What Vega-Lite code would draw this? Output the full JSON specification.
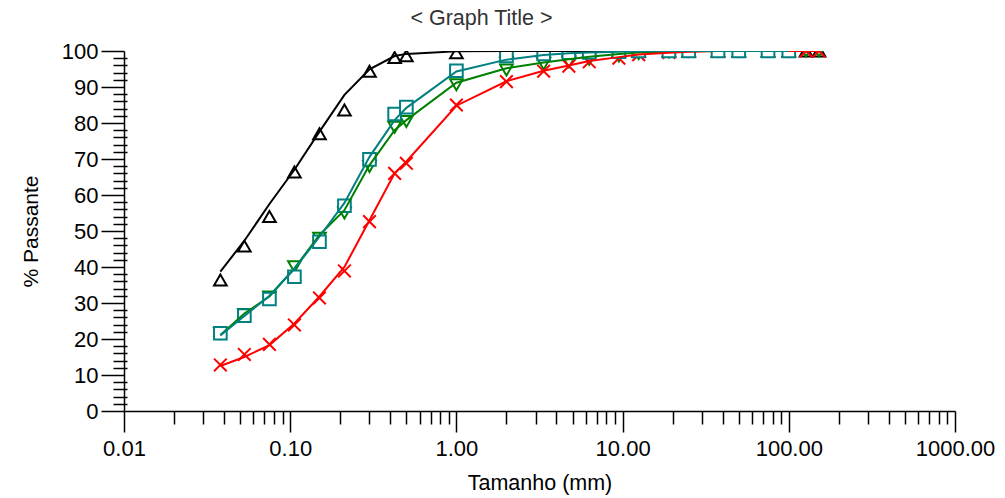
{
  "$schema": "https://vega.github.io/schema/vega-lite/v6.json",
  "autosize": "none",
  "width": 831,
  "height": 360,
  "padding": {"left": 124, "top": 51, "right": 50, "bottom": 87},
  "background": "white",
  "config": {"view": {"stroke": null}, "axis": {"grid": false}},
  "title": {"text": "< Graph Title >", "font": "Liberation Sans", "fontSize": 21.5, "fontWeight": "normal", "color": "#333333", "anchor": "middle", "baseline": "alphabetic", "offset": 17, "dy": 23, "dx": -58},
  "data": {"values": [
    {"x":0.038,"s":"A","m":36.4,"f":38.7},{"x":0.053,"s":"A","m":45.8,"f":47.3},{"x":0.075,"s":"A","m":54.0,"f":57.5},{"x":0.106,"s":"A","m":66.4,"f":67.0},{"x":0.15,"s":"A","m":77.0,"f":77.6},{"x":0.212,"s":"A","m":83.6,"f":87.8},{"x":0.3,"s":"A","m":94.4,"f":94.9},{"x":0.425,"s":"A","m":98.2,"f":98.6},{"x":0.5,"s":"A","m":98.7,"f":99.2},{"x":1,"s":"A","m":99.5,"f":99.9},{"x":2,"s":"A","m":100,"f":100},{"x":3.35,"s":"A","m":100,"f":100},{"x":4.75,"s":"A","m":100,"f":100},{"x":6.3,"s":"A","m":100,"f":100},{"x":9.5,"s":"A","m":100,"f":100},{"x":12.5,"s":"A","m":100,"f":100},{"x":19,"s":"A","m":100,"f":100},{"x":25,"s":"A","m":100,"f":100},{"x":37.5,"s":"A","m":100,"f":100},{"x":50,"s":"A","m":100,"f":100},{"x":75,"s":"A","m":100,"f":100},{"x":100,"s":"A","m":100,"f":100},{"x":127,"s":"A","m":100,"f":100},{"x":152,"s":"A","m":100,"f":100},
    {"x":0.038,"s":"B","m":21.5,"f":21.1},{"x":0.053,"s":"B","m":26.8,"f":27.1},{"x":0.075,"s":"B","m":31.7,"f":31.8},{"x":0.106,"s":"B","m":40.1,"f":39.6},{"x":0.15,"s":"B","m":48.0,"f":48.9},{"x":0.212,"s":"B","m":55.0,"f":55.8},{"x":0.3,"s":"B","m":67.9,"f":68.3},{"x":0.425,"s":"B","m":78.8,"f":78.0},{"x":0.5,"s":"B","m":80.4,"f":80.8},{"x":1,"s":"B","m":90.6,"f":91.2},{"x":2,"s":"B","m":94.7,"f":95.2},{"x":3.35,"s":"B","m":96.4,"f":96.8},{"x":4.75,"s":"B","m":97.0,"f":97.7},{"x":6.3,"s":"B","m":97.7,"f":98.4},{"x":9.5,"s":"B","m":98.6,"f":99.2},{"x":12.5,"s":"B","m":99.3,"f":99.6},{"x":19,"s":"B","m":99.7,"f":99.8},{"x":25,"s":"B","m":100,"f":99.9},{"x":37.5,"s":"B","m":100,"f":100},{"x":50,"s":"B","m":100,"f":100},{"x":75,"s":"B","m":100,"f":100},{"x":100,"s":"B","m":100,"f":100},{"x":127,"s":"B","m":100,"f":100},{"x":152,"s":"B","m":100,"f":100},
    {"x":0.038,"s":"D","m":12.8,"f":12.5},{"x":0.053,"s":"D","m":15.7,"f":15.0},{"x":0.075,"s":"D","m":18.5,"f":18.3},{"x":0.106,"s":"D","m":23.9,"f":24.3},{"x":0.15,"s":"D","m":31.4,"f":31.8},{"x":0.212,"s":"D","m":38.9,"f":40.0},{"x":0.3,"s":"D","m":52.6,"f":53.0},{"x":0.425,"s":"D","m":66.0,"f":66.0},{"x":0.5,"s":"D","m":68.8,"f":69.3},{"x":1,"s":"D","m":85.0,"f":84.8},{"x":2,"s":"D","m":91.5,"f":91.6},{"x":3.35,"s":"D","m":94.4,"f":94.5},{"x":4.75,"s":"D","m":95.8,"f":96.0},{"x":6.3,"s":"D","m":97.0,"f":97.2},{"x":9.5,"s":"D","m":98.0,"f":98.3},{"x":12.5,"s":"D","m":99.0,"f":99.0},{"x":19,"s":"D","m":99.6,"f":99.5},{"x":25,"s":"D","m":100,"f":99.8},{"x":37.5,"s":"D","m":100,"f":100},{"x":50,"s":"D","m":100,"f":100},{"x":75,"s":"D","m":100,"f":100},{"x":100,"s":"D","m":100,"f":100},{"x":127,"s":"D","m":100,"f":100},{"x":152,"s":"D","m":100,"f":100},
    {"x":0.038,"s":"C","m":21.6,"f":21.0},{"x":0.053,"s":"C","m":26.5,"f":26.4},{"x":0.075,"s":"C","m":31.1,"f":32.0},{"x":0.106,"s":"C","m":37.3,"f":39.5},{"x":0.15,"s":"C","m":47.0,"f":48.4},{"x":0.212,"s":"C","m":57.0,"f":57.8},{"x":0.3,"s":"C","m":69.9,"f":70.6},{"x":0.425,"s":"C","m":82.5,"f":80.8},{"x":0.5,"s":"C","m":84.4,"f":84.2},{"x":1,"s":"C","m":94.5,"f":94.3},{"x":2,"s":"C","m":98.6,"f":97.6},{"x":3.35,"s":"C","m":99.2,"f":98.9},{"x":4.75,"s":"C","m":99.5,"f":99.4},{"x":6.3,"s":"C","m":99.6,"f":99.6},{"x":9.5,"s":"C","m":99.8,"f":99.8},{"x":12.5,"s":"C","m":100,"f":99.9},{"x":19,"s":"C","m":100,"f":100},{"x":25,"s":"C","m":100,"f":100},{"x":37.5,"s":"C","m":100,"f":100},{"x":50,"s":"C","m":100,"f":100},{"x":75,"s":"C","m":100,"f":100},{"x":100,"s":"C","m":100,"f":100}
  ]},
  "resolve": {"axis": {"x": "independent", "y": "independent"}},
  "layer": [
    {
      "mark": {"type": "point", "filled": true, "fill": "white", "opacity": 1, "strokeWidth": 2, "clip": true},
      "encoding": {
        "x": {"field": "x", "type": "quantitative", "scale": {"type": "log", "domain": [0.01, 1000]},
          "axis": {"values": [0.01, 0.1, 1, 10, 100, 1000], "format": ".2f", "orient": "bottom", "tickSize": 21, "tickWidth": 1.5, "tickColor": "black", "domainColor": "black", "domainWidth": 1.5, "labelFont": "Liberation Sans", "labelFontSize": 22, "labelColor": "black", "labelPadding": 6, "labelFlush": false, "labelOverlap": false, "title": "Tamanho (mm)", "titleFont": "Liberation Sans", "titleFontSize": 21.5, "titleFontWeight": "normal", "titleColor": "black", "titlePadding": 13}},
        "y": {"field": "m", "type": "quantitative", "scale": {"domain": [0, 100]},
          "axis": {"values": [0, 10, 20, 30, 40, 50, 60, 70, 80, 90, 100], "orient": "left", "tickSize": 23, "tickWidth": 1.5, "tickColor": "black", "domainColor": "black", "domainWidth": 1.5, "labelFont": "Liberation Sans", "labelFontSize": 22, "labelColor": "black", "labelPadding": 3, "labelOverlap": false, "title": "% Passante", "titleFont": "Liberation Sans", "titleFontSize": 21, "titleFontWeight": "normal", "titleColor": "black", "titlePadding": 20}},
        "stroke": {"field": "s", "type": "nominal", "scale": {"domain": ["A", "B", "D", "C"], "range": ["#000000", "#008000", "#ff0000", "#008080"]}, "legend": null},
        "shape": {"field": "s", "type": "nominal", "scale": {"domain": ["A", "B", "D", "C"], "range": ["triangle-up", "triangle-down", "M-1,-1L1,1M-1,1L1,-1", "square"]}, "legend": null},
        "size": {"field": "s", "type": "ordinal", "scale": {"domain": ["A", "B", "D", "C"], "range": [160, 160, 330, 140]}, "legend": null}
      }
    },
    {
      "mark": {"type": "line", "strokeWidth": 2, "clip": true},
      "encoding": {
        "x": {"field": "x", "type": "quantitative", "scale": {"type": "log", "domain": [0.01, 1000]},
          "axis": {"values": [0.02,0.03,0.04,0.05,0.06,0.07,0.08,0.09,0.2,0.3,0.4,0.5,0.6,0.7,0.8,0.9,2,3,4,5,6,7,8,9,20,30,40,50,60,70,80,90,200,300,400,500,600,700,800,900], "orient": "bottom", "labels": false, "domain": false, "tickSize": 13, "tickWidth": 1.5, "tickColor": "black", "title": null}},
        "y": {"field": "f", "type": "quantitative", "scale": {"domain": [0, 100]},
          "axis": {"values": [2,4,6,8,12,14,16,18,22,24,26,28,32,34,36,38,42,44,46,48,52,54,56,58,62,64,66,68,72,74,76,78,82,84,86,88,92,94,96,98], "orient": "left", "labels": false, "domain": false, "offset": -3, "tickSize": 14, "tickWidth": 1.5, "tickColor": "black", "title": null}},
        "color": {"field": "s", "type": "nominal", "scale": {"domain": ["A", "B", "D", "C"], "range": ["#000000", "#008000", "#ff0000", "#008080"]}, "legend": null}
      }
    }
  ]
}
